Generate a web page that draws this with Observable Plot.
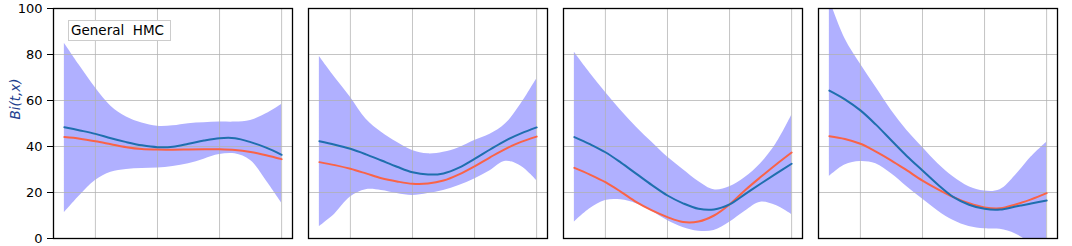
<!DOCTYPE html>
<html>
<head>
<meta charset="utf-8">
<script src="https://cdn.jsdelivr.net/npm/d3@7"></script>
<script src="https://cdn.jsdelivr.net/npm/@observablehq/plot@0.6"></script>
<style>
  html, body { margin: 0; padding: 0; background: #fff; }
  #wrap { position: relative; width: 1072px; height: 246px; font-family: "DejaVu Sans", sans-serif; }
  #legend { position: absolute; left: 68px; top: 20px; width: 99px; height: 19px;
    border: 1px solid #cccccc; background: #fff; font-size: 13.5px; line-height: 19px;
    padding-left: 2px; white-space: pre; color: #000; box-sizing: content-box; }
</style>
</head>
<body>
<div id="wrap"><div id="legend">General  HMC</div></div>
<script>
// ---- data ----
const panels = [1, 2, 3, 4];
const xValues = [0.1, 0.15, 0.2, 0.25, 0.3, 0.35, 0.4, 0.45, 0.5, 0.55, 0.6, 0.65, 0.7, 0.75, 0.8];
const xGridTicks = [0.2, 0.4, 0.6, 0.8];
const yTicks = [0, 20, 40, 60, 80, 100];
const yGridTicks = [20, 40, 60, 80];
const legendLabel = "General  HMC";
const yLabel = "Bi(t,x)";

// blue (estimated) curve per panel
const blueCurve = [
  [48.4, 47.0, 45.5, 43.6, 41.9, 40.5, 39.7, 39.9, 41.2, 42.6, 43.6, 43.6, 41.9, 39.5, 36.4],
  [42.3, 40.8, 39.0, 36.6, 33.9, 31.2, 28.8, 27.8, 28.3, 30.8, 34.6, 38.7, 42.6, 45.7, 48.3],
  [44.1, 41.0, 37.5, 33.0, 28.1, 23.2, 18.7, 15.3, 12.9, 12.6, 14.8, 19.3, 23.8, 28.2, 32.5],
  [64.3, 60.5, 55.7, 49.5, 42.6, 35.8, 29.6, 23.4, 18.0, 14.7, 12.9, 12.6, 13.9, 15.2, 16.5]
];
// red (true) curve per panel
const redCurve = [
  [44.1, 43.4, 42.3, 41.0, 39.7, 38.9, 38.7, 38.6, 38.7, 38.8, 38.8, 38.5, 37.6, 36.2, 34.5],
  [33.2, 31.9, 30.3, 28.3, 26.2, 24.8, 23.8, 23.9, 25.2, 27.9, 31.4, 35.3, 39.0, 42.0, 44.3],
  [30.7, 27.8, 24.5, 20.3, 15.8, 12.2, 9.3, 7.2, 7.4, 10.0, 14.8, 21.0, 26.7, 32.2, 37.4],
  [44.5, 43.3, 41.2, 37.8, 33.9, 29.6, 25.2, 21.4, 18.0, 15.3, 13.5, 13.1, 14.8, 17.0, 19.7]
];
// band upper bound per panel
const bandUpper = [
  [84.9, 75.0, 65.5, 57.5, 52.8, 50.2, 48.8, 49.0, 49.9, 50.3, 50.6, 50.6, 51.3, 54.2, 58.3],
  [79.1, 70.0, 61.4, 52.0, 46.2, 41.8, 38.3, 36.8, 37.5, 39.5, 42.6, 45.3, 49.9, 58.6, 69.4],
  [81.0, 72.0, 63.6, 55.7, 48.4, 41.8, 35.4, 30.0, 24.8, 21.2, 22.5, 26.5, 32.5, 41.2, 53.5],
  [104.0, 87.0, 75.9, 65.8, 55.7, 47.0, 39.7, 32.5, 26.7, 22.5, 20.6, 21.2, 27.5, 35.4, 41.9]
];
// band lower bound per panel
const bandLower = [
  [11.2, 18.7, 25.2, 28.8, 30.0, 30.4, 30.6, 31.3, 32.5, 34.5, 36.5, 36.8, 33.9, 25.2, 15.4],
  [5.2, 10.7, 18.0, 21.2, 20.9, 19.6, 18.7, 19.6, 20.9, 23.0, 25.9, 29.5, 33.6, 31.4, 25.2],
  [7.1, 12.9, 16.5, 16.8, 15.1, 11.8, 7.8, 4.8, 3.2, 3.5, 7.1, 11.9, 15.8, 14.3, 10.4],
  [27.0, 32.0, 33.5, 32.5, 28.1, 22.5, 17.2, 12.0, 7.8, 5.2, 4.2, 4.0, 2.0, -2.3, -6.7]
];

// ---- table built from the arrays ----
const rows = [];
panels.forEach((p, i) => {
  xValues.forEach((x, j) => {
    rows.push({panel: p, x, blue: blueCurve[i][j], red: redCurve[i][j], lo: bandLower[i][j], hi: bandUpper[i][j]});
  });
});

const chart = Plot.plot({
  width: 1072,
  height: 246,
  marginLeft: 52,
  marginRight: 14,
  marginTop: 8,
  marginBottom: 8,
  style: {fontFamily: "DejaVu Sans, sans-serif", fontSize: "13px", background: "#fff"},
  fx: {domain: panels, paddingInner: 0.061, paddingOuter: 0, axis: null},
  x: {domain: [0.065, 0.835], axis: null},
  y: {domain: [0, 100], axis: null},
  marks: [
    Plot.areaY(rows, {fx: "panel", x: "x", y1: "lo", y2: "hi", fill: "#b0b0ff", curve: "catmull-rom", clip: true}),
    Plot.ruleX(xGridTicks, {stroke: "#b0b0b0", strokeWidth: 1, strokeOpacity: 0.75}),
    Plot.ruleY(yGridTicks, {stroke: "#b0b0b0", strokeWidth: 1, strokeOpacity: 0.75}),
    Plot.line(rows, {fx: "panel", x: "x", y: "red", stroke: "#fa6347", strokeWidth: 2, curve: "catmull-rom", clip: true}),
    Plot.line(rows, {fx: "panel", x: "x", y: "blue", stroke: "#1f6fae", strokeWidth: 2, curve: "catmull-rom", clip: true}),
    Plot.axisY({ticks: yTicks, tickSize: 6, tickPadding: 5, fontSize: 13, label: null, stroke: "#000", fill: "#000"}),
    Plot.text([yLabel], {fx: () => panels[0], frameAnchor: "left", dx: -38, dy: -4, rotate: -90, fontStyle: "italic", fill: "#1f3f8f", fontSize: 13.5}),
    Plot.frame({stroke: "#000", strokeWidth: 1.3})
  ]
});
document.getElementById("wrap").prepend(chart);
</script>
</body>
</html>
